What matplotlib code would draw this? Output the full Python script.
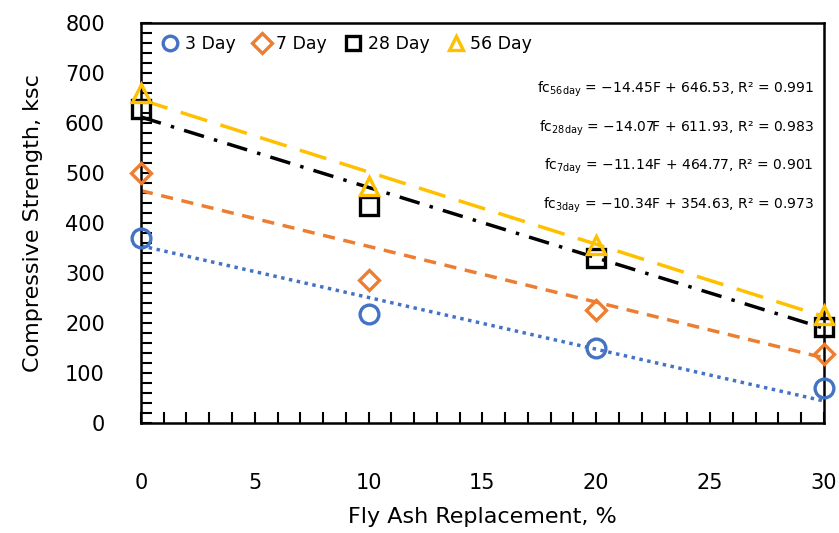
import matplotlib
matplotlib.use("Agg")
import matplotlib.pyplot as plt
import numpy as np
from matplotlib.ticker import MultipleLocator

# fly ash replacement (%)
fly_ash = [0, 10, 20, 30]

# compressive strength (ksc)
day3 = [370, 218, 150, 70]
day7 = [500, 286, 226, 138]
day28 = [628, 434, 330, 192]
day56 = [660, 474, 356, 216]

# trend lines from the printed equations
slopes = [-10.34, -11.14, -14.07, -14.45]
intercepts = [354.63, 464.77, 611.93, 646.53]
r2 = [0.973, 0.901, 0.983, 0.991]
series_names = ["3 Day", "7 Day", "28 Day", "56 Day"]
sub_names = ["3day", "7day", "28day", "56day"]

colors = ["#4472C4", "#ED7D31", "#000000", "#FFC000"]
markers = ["o", "D", "s", "^"]
msizes = [13.5, 10.5, 13, 13.5]
line_styles = [(0, (1, 1.3)), (0, (3.5, 2.5)), (0, (6, 3, 1, 3)), (0, (8, 4))]

fig = plt.figure(figsize=(8.39, 5.33), dpi=100)
ax = fig.add_axes([0.168, 0.206, 0.814, 0.751])

xs = np.array([0, 30])
for s, b, c, ls in zip(slopes, intercepts, colors, line_styles):
    ax.plot(xs, s * xs + b, color=c, ls=ls, lw=2.5, zorder=2)

for ys, c, m, ms, name in zip([day3, day7, day28, day56], colors, markers, msizes, series_names):
    ax.plot(fly_ash, ys, ls="none", marker=m, ms=ms, mfc="none", mec=c, mew=2.4,
            label=name, zorder=3, clip_on=False)

ax.set_xlim(0, 30)
ax.set_ylim(0, 800)
ax.xaxis.set_major_locator(MultipleLocator(5))
ax.xaxis.set_minor_locator(MultipleLocator(1))
ax.yaxis.set_major_locator(MultipleLocator(100))
ax.yaxis.set_minor_locator(MultipleLocator(20))
ax.tick_params(axis="both", which="both", direction="in", width=1.5, labelsize=15)
ax.tick_params(axis="both", which="major", length=8)
ax.tick_params(axis="both", which="minor", length=8)
ax.tick_params(axis="x", pad=36)
ax.tick_params(axis="y", pad=26)
for sp in ax.spines.values():
    sp.set_linewidth(1.8)

ax.set_xlabel("Fly Ash Replacement, %", fontsize=16, labelpad=10)
ax.set_ylabel("Compressive Strength, ksc", fontsize=16, labelpad=16)

leg = ax.legend(loc="upper left", ncol=4, frameon=False, fontsize=12.5,
                handlelength=1.0, handletextpad=0.35, columnspacing=1.0,
                borderaxespad=0.3, bbox_to_anchor=(0.012, 1.0))
for h in leg.legend_handles:
    h.set_markersize(10.5)

order = [3, 2, 1, 0]
ypos = [0.835, 0.737, 0.642, 0.545]
for k, i in enumerate(order):
    txt = (r"fc$_{\mathrm{" + sub_names[i] + r"}}$ = "
           + f"\u2212{abs(slopes[i]):.2f}F + {intercepts[i]:.2f}, R\u00b2 = {r2[i]:.3f}")
    ax.text(0.985, ypos[k], txt, transform=ax.transAxes, ha="right", va="center",
            fontsize=10)

fig.savefig("out.png", dpi=100)
